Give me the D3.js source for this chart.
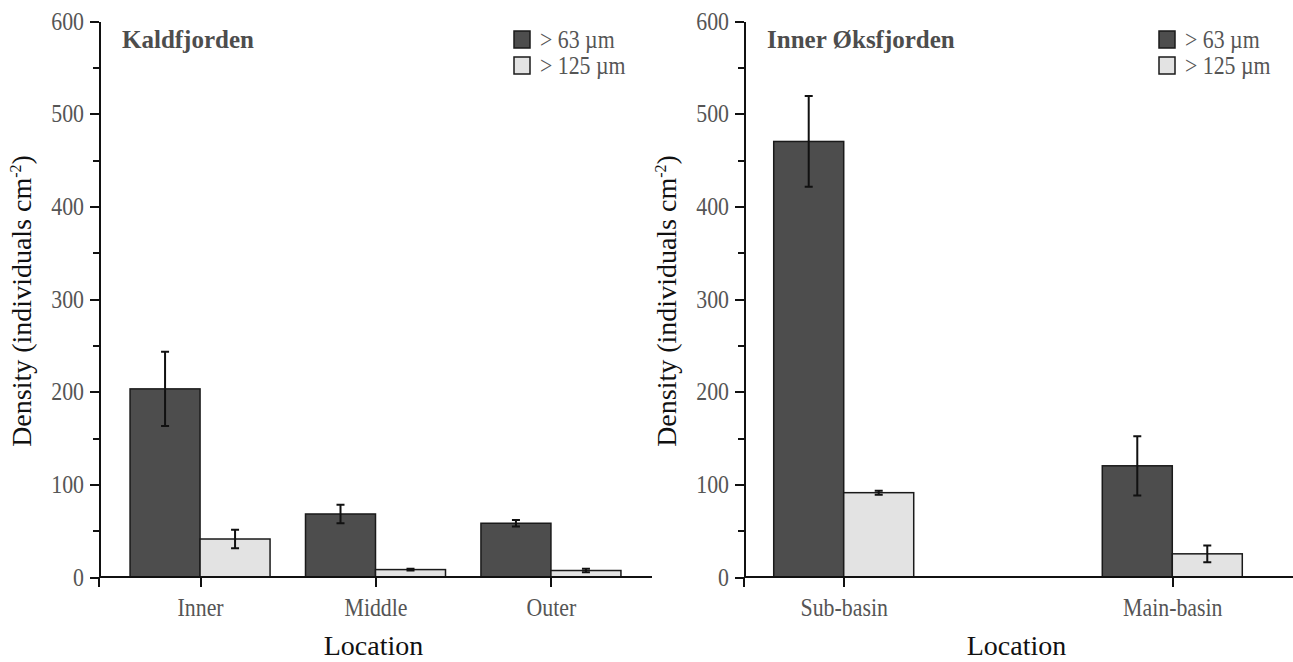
<!DOCTYPE html>
<html lang="en">
<head>
<meta charset="utf-8">
<title>Foraminifera density</title>
<script src="https://cdn.jsdelivr.net/npm/d3@7"></script>
<style>
  body { margin: 0; background: #fff; }
  svg text { font-family: "Liberation Serif", "Times New Roman", serif; }
  .axis path, .axis line { stroke: #111; stroke-width: 2; shape-rendering: crispEdges; }
  .axis text { font-size: 26px; fill: #555; }
  .bar { stroke: #1a1a1a; stroke-width: 1.5; }
  .err { stroke: #111; stroke-width: 2; fill: none; }
</style>
</head>
<body>
<script>
  // Data
  var yTicks = [0, 100, 200, 300, 400, 500, 600];
  var yMinor = [50, 150, 250, 350, 450, 550];
  var seriesNames = ["> 63 \u00b5m", "> 125 \u00b5m"];
  var seriesColors = ["#4d4d4d", "#e3e3e3"];

  var kaldCats = ["Inner", "Middle", "Outer"];
  var kald63 = [203, 68, 58];
  var kald63Err = [40, 10, 3.6];
  var kald125 = [41, 8, 7];
  var kald125Err = [10, 1, 1.8];

  var oksCats = ["Sub-basin", "Main-basin"];
  var oks63 = [470, 120];
  var oks63Err = [49, 32];
  var oks125 = [91, 25];
  var oks125Err = [2.2, 9];

  var w = 1293, h = 662;
  var barW = 70;
  var squeeze = 0.84; // the tick and legend lettering is narrow

  var svg = d3.select("body").append("svg")
    .attr("width", w)
    .attr("height", h);

  var y = d3.scaleLinear().domain([0, 600]).range([577, 21]);

  function panel(cfg) {
    var g = svg.append("g");

    var x = d3.scalePoint()
      .domain(cfg.cats)
      .range([cfg.x0, cfg.x1])
      .padding(cfg.pad);

    // rows: one per category and series
    var rows = [];
    cfg.cats.forEach(function (c, i) {
      rows.push({ cat: c, s: 0, v: cfg.a[i], e: cfg.aErr[i] });
      rows.push({ cat: c, s: 1, v: cfg.b[i], e: cfg.bErr[i] });
    });

    g.selectAll("rect.bar")
      .data(rows)
      .enter()
      .append("rect")
      .attr("class", "bar")
      .attr("x", function (d) { return d.s === 0 ? x(d.cat) - barW : x(d.cat); })
      .attr("y", function (d) { return y(d.v); })
      .attr("width", barW)
      .attr("height", function (d) { return y(0) - y(d.v); })
      .attr("fill", function (d) { return seriesColors[d.s]; });

    // error bars
    g.selectAll("path.err")
      .data(rows)
      .enter()
      .append("path")
      .attr("class", "err")
      .attr("d", function (d) {
        var cx = d.s === 0 ? x(d.cat) - barW / 2 : x(d.cat) + barW / 2;
        var t = y(d.v + d.e), b = y(d.v - d.e);
        return "M" + (cx - 4) + "," + t + "H" + (cx + 4) +
          "M" + cx + "," + t + "V" + b +
          "M" + (cx - 4) + "," + b + "H" + (cx + 4);
      });

    // y axis
    var ya = g.append("g")
      .attr("class", "axis")
      .attr("transform", "translate(" + cfg.x0 + ",0)")
      .call(d3.axisLeft(y).tickValues(yTicks).tickSize(9).tickSizeOuter(0).tickPadding(6));
    ya.selectAll(".tick text")
      .attr("x", -15 / squeeze)
      .attr("transform", "scale(" + squeeze + ",1)");
    g.append("g")
      .attr("class", "axis")
      .attr("transform", "translate(" + cfg.x0 + ",0)")
      .call(d3.axisLeft(y).tickValues(yMinor).tickSize(6).tickFormat(""))
      .select(".domain").remove();
    g.append("line")
      .attr("x1", cfg.x0).attr("x2", cfg.x0)
      .attr("y1", y(0)).attr("y2", y(0) + 10)
      .attr("stroke", "#111").attr("stroke-width", 2);

    // x axis
    var xa = g.append("g")
      .attr("class", "axis")
      .attr("transform", "translate(0," + y(0) + ")")
      .call(d3.axisBottom(x).tickSize(10).tickSizeOuter(0).tickPadding(11));
    xa.select(".domain").remove();
    xa.selectAll(".tick text")
      .attr("transform", "scale(" + squeeze + ",1)");
    xa.append("line")
      .attr("x1", cfg.x0).attr("x2", cfg.lineEnd)
      .attr("y1", 0).attr("y2", 0)
      .attr("stroke", "#111").attr("stroke-width", 2);

    // axis titles
    g.append("text")
      .attr("x", (cfg.x0 + cfg.lineEnd) / 2 - 2)
      .attr("y", 655)
      .attr("text-anchor", "middle")
      .attr("font-size", "28px")
      .attr("fill", "#111")
      .text("Location");

    var yl = g.append("text")
      .attr("transform", "translate(" + (cfg.x0 - 68) + "," + ((y(0) + y(600)) / 2 + 2) + ") rotate(-90)")
      .attr("text-anchor", "middle")
      .attr("font-size", "28px")
      .attr("fill", "#111");
    yl.append("tspan").text("Density (individuals cm");
    yl.append("tspan").attr("dy", -10).attr("font-size", "16px").text("-2");
    yl.append("tspan").attr("dy", 10).text(")");

    // panel title
    g.append("text")
      .attr("x", cfg.x0 + 23)
      .attr("y", 48)
      .attr("font-size", "25px")
      .attr("font-weight", "bold")
      .attr("fill", "#4d4d4d")
      .text(cfg.title);

    // legend
    var lg = g.append("g")
      .attr("transform", "translate(" + (cfg.x0 + 415) + ",31)");
    var item = lg.selectAll("g")
      .data(seriesNames)
      .enter()
      .append("g")
      .attr("transform", function (d, i) { return "translate(0," + i * 26 + ")"; });
    item.append("rect")
      .attr("width", 16).attr("height", 17)
      .attr("fill", function (d, i) { return seriesColors[i]; })
      .attr("stroke", "#1a1a1a").attr("stroke-width", 1.5);
    item.append("text")
      .attr("x", 26 / squeeze).attr("y", 17)
      .attr("transform", "scale(" + squeeze + ",1)")
      .attr("font-size", "26px")
      .attr("fill", "#555")
      .text(function (d) { return d; });
  }

  panel({
    title: "Kaldfjorden", cats: kaldCats,
    a: kald63, aErr: kald63Err, b: kald125, bErr: kald125Err,
    x0: 99, x1: 652, pad: 0.576, lineEnd: 652
  });

  panel({
    title: "Inner \u00d8ksfjorden", cats: oksCats,
    a: oks63, aErr: oks63Err, b: oks125, bErr: oks125Err,
    x0: 744, x1: 1272, pad: 0.3035, lineEnd: 1293
  });
</script>
</body>
</html>
